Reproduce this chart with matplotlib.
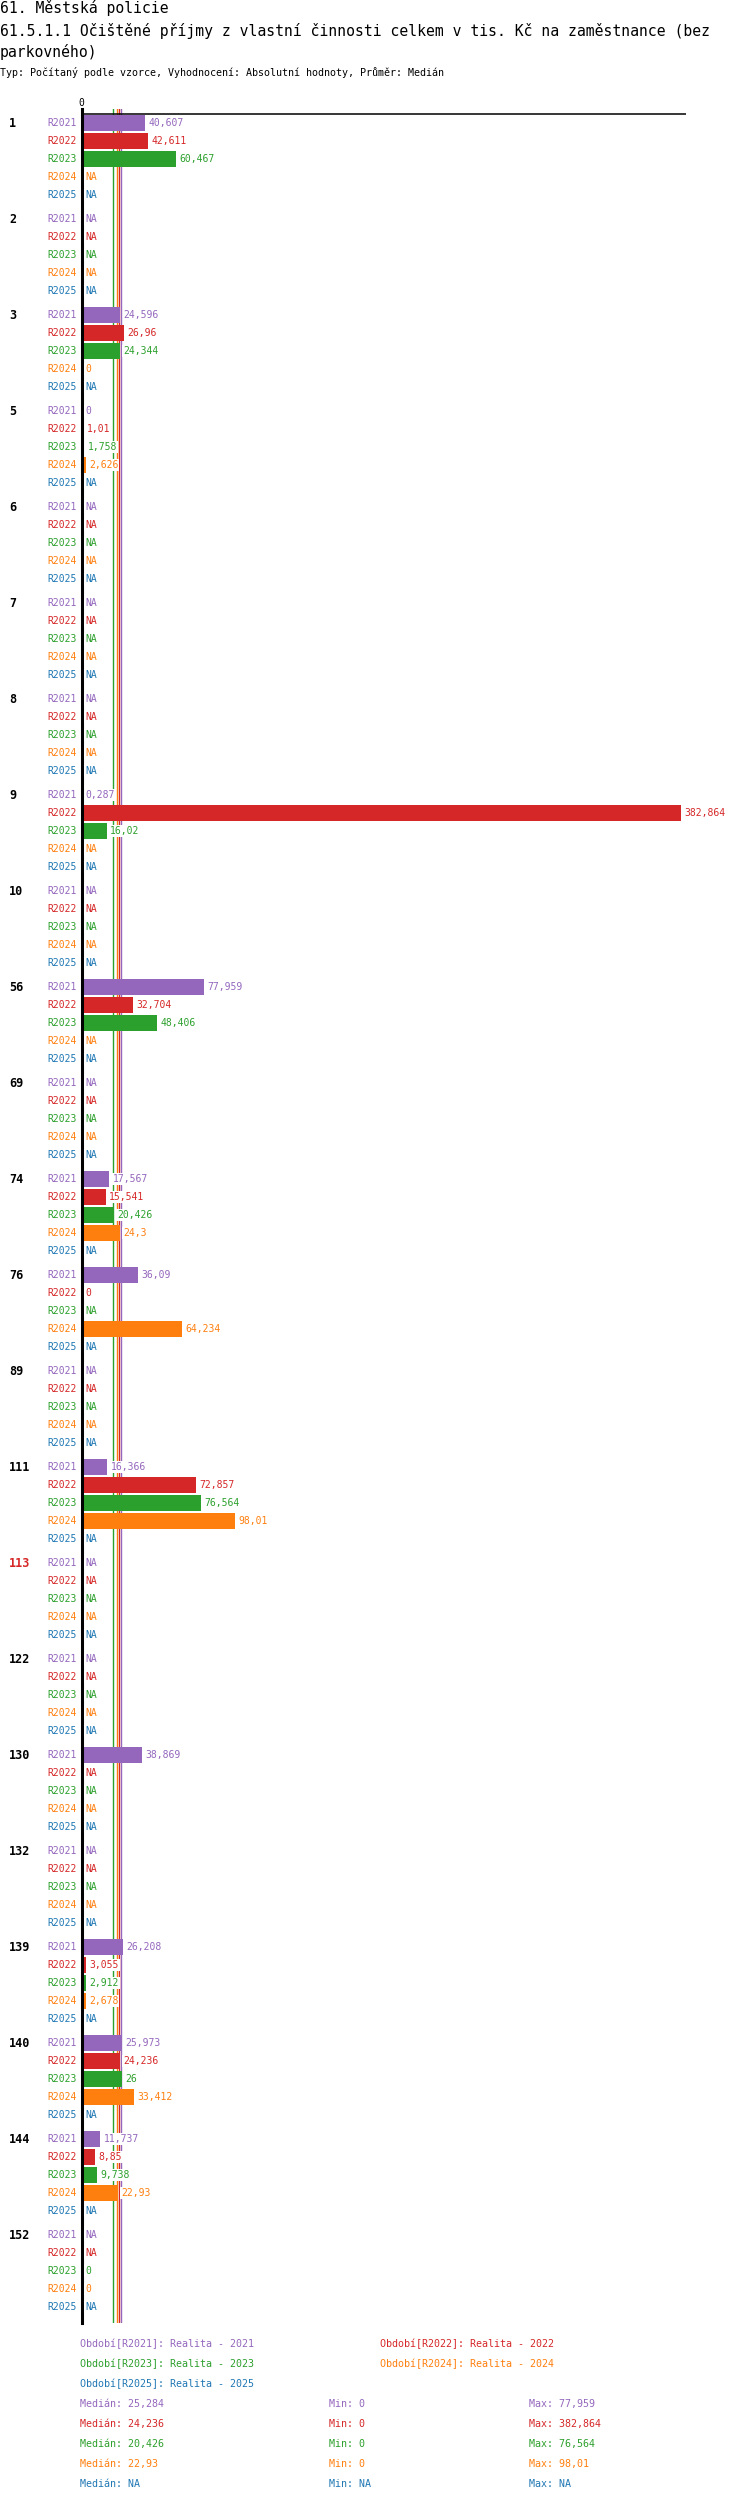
import matplotlib
matplotlib.use('Agg')
import matplotlib.pyplot as plt

# ---------------- data ----------------
groups = ['1', '2', '3', '5', '6', '7', '8', '9', '10', '56', '69', '74', '76',
          '89', '111', '113', '122', '130', '132', '139', '140', '144', '152']
highlight_group = '113'
periods = ['R2021', 'R2022', 'R2023', 'R2024', 'R2025']
period_names = ['Realita - 2021', 'Realita - 2022', 'Realita - 2023',
                'Realita - 2024', 'Realita - 2025']
NA = None
r2021 = [40.607, NA, 24.596, 0, NA, NA, NA, 0.287, NA, 77.959, NA, 17.567, 36.09,
         NA, 16.366, NA, NA, 38.869, NA, 26.208, 25.973, 11.737, NA]
r2022 = [42.611, NA, 26.96, 1.01, NA, NA, NA, 382.864, NA, 32.704, NA, 15.541, 0,
         NA, 72.857, NA, NA, NA, NA, 3.055, 24.236, 8.85, NA]
r2023 = [60.467, NA, 24.344, 1.758, NA, NA, NA, 16.02, NA, 48.406, NA, 20.426, NA,
         NA, 76.564, NA, NA, NA, NA, 2.912, 26, 9.738, 0]
r2024 = [NA, NA, 0, 2.626, NA, NA, NA, NA, NA, NA, NA, 24.3, 64.234,
         NA, 98.01, NA, NA, NA, NA, 2.678, 33.412, 22.93, 0]
r2025 = [NA, NA, NA, NA, NA, NA, NA, NA, NA, NA, NA, NA, NA,
         NA, NA, NA, NA, NA, NA, NA, NA, NA, NA]
series = [r2021, r2022, r2023, r2024, r2025]
medians = [25.284, 24.236, 20.426, 22.93, NA]
mins = [0, 0, 0, 0, NA]
maxs = [77.959, 382.864, 76.564, 98.01, NA]

colors = ['#9467bd', '#d62728', '#2ca02c', '#ff7f0e', '#1f77b4']

title1 = '61. Městská policie'
title2 = '61.5.1.1 Očištěné příjmy z vlastní činnosti celkem v tis. Kč na zaměstnance (bez'
title3 = 'parkovného)'
subtitle = 'Typ: Počítaný podle vzorce, Vyhodnocení: Absolutní hodnoty, Průměr: Medián'

# ---------------- layout ----------------
W, H = 750, 2502
DPI = 100
MONO = 'DejaVu Sans Mono'
ROW_PX = 18.0
GROUP_ROWS = 96.0 / ROW_PX       # group period in row units
FIRST_ROW_PX = 123.3
AX_LEFT, AX_RIGHT = 81.5, 686.0
AX_TOP, AX_BOT = 109.0, 2323.0
PX_PER_UNIT = 1.565


def fmt(v):
    if v is None:
        return 'NA'
    s = f'{v:.3f}'.rstrip('0').rstrip('.')
    return s.replace('.', ',')


def fx(px):
    return px / W


def fy(py):
    return 1 - py / H


fig = plt.figure(figsize=(W / DPI, H / DPI), dpi=DPI)
ax = fig.add_axes([fx(AX_LEFT), fy(AX_BOT), (AX_RIGHT - AX_LEFT) / W, (AX_BOT - AX_TOP) / H])
ax.set_xlim(0, (AX_RIGHT - AX_LEFT) / PX_PER_UNIT)
ax.set_ylim((AX_BOT - FIRST_ROW_PX) / ROW_PX, (AX_TOP - FIRST_ROW_PX) / ROW_PX)
for s in ['right', 'bottom', 'top']:
    ax.spines[s].set_visible(False)
ax.spines['left'].set_linewidth(2.2)
ax.spines['left'].set_color('black')
ax.set_yticks([])
ax.xaxis.tick_top()
ax.set_xticks([0])
ax.set_xticklabels(['0'], fontfamily=MONO, fontsize=7)
ax.tick_params(axis='x', length=0, pad=1)
ax.axhline((114 - FIRST_ROW_PX) / ROW_PX, color='black', lw=1.1, zorder=4)

# median lines
for med, c in zip(medians, colors):
    if med is not None:
        ax.axvline(med, color=c, lw=1.0, zorder=1)

# bars and labels
for gi, g in enumerate(groups):
    y0 = gi * GROUP_ROWS
    gcol = '#d62728' if g == highlight_group else 'black'
    ax.annotate(g, xy=(0, y0), xycoords=('axes fraction', 'data'),
                xytext=(9 - AX_LEFT, 0), textcoords='offset pixels',
                ha='left', va='center', fontsize=8.5, fontweight='bold',
                fontfamily=MONO, color=gcol)
    for k, (p, vals, c) in enumerate(zip(periods, series, colors)):
        y = y0 + k
        v = vals[gi]
        ax.annotate(p, xy=(0, y), xycoords='data', xytext=(-4.5, 0),
                    textcoords='offset pixels', ha='right', va='center',
                    fontsize=7, fontfamily=MONO, color=c)
        if v is not None:
            ax.barh(y, v, height=0.87, color=c, zorder=2)
        ax.annotate(fmt(v), xy=(v if v is not None else 0, y), xycoords='data',
                    xytext=(3.5, 0), textcoords='offset pixels', ha='left',
                    va='center', fontsize=7, fontfamily=MONO, color=c, zorder=3,
                    bbox=dict(facecolor='white', edgecolor='none', pad=0.6))

# titles
fig.text(fx(0), fy(8), title1, fontsize=10.6, fontfamily=MONO, va='center', ha='left')
fig.text(fx(0), fy(31), title2, fontsize=10.6, fontfamily=MONO, va='center', ha='left')
fig.text(fx(0), fy(52), title3, fontsize=10.6, fontfamily=MONO, va='center', ha='left')
fig.text(fx(0), fy(73), subtitle, fontsize=7.2, fontfamily=MONO, va='center', ha='left')

# legend
leg_pos = [(80, 2344), (380, 2344), (80, 2364), (380, 2364), (80, 2384)]
for (lx, ly), p, name, c in zip(leg_pos, periods, period_names, colors):
    fig.text(fx(lx), fy(ly), f'Období[{p}]: {name}', fontsize=7.2,
             fontfamily=MONO, color=c, va='center', ha='left')
for i, (med, mn, mx, c) in enumerate(zip(medians, mins, maxs, colors)):
    ly = 2404 + 20 * i
    fig.text(fx(80), fy(ly), f'Medián: {fmt(med)}', fontsize=7.2,
             fontfamily=MONO, color=c, va='center', ha='left')
    fig.text(fx(329), fy(ly), f'Min: {fmt(mn)}', fontsize=7.2,
             fontfamily=MONO, color=c, va='center', ha='left')
    fig.text(fx(529), fy(ly), f'Max: {fmt(mx)}', fontsize=7.2,
             fontfamily=MONO, color=c, va='center', ha='left')

fig.savefig('out.png', dpi=DPI, facecolor='white')
